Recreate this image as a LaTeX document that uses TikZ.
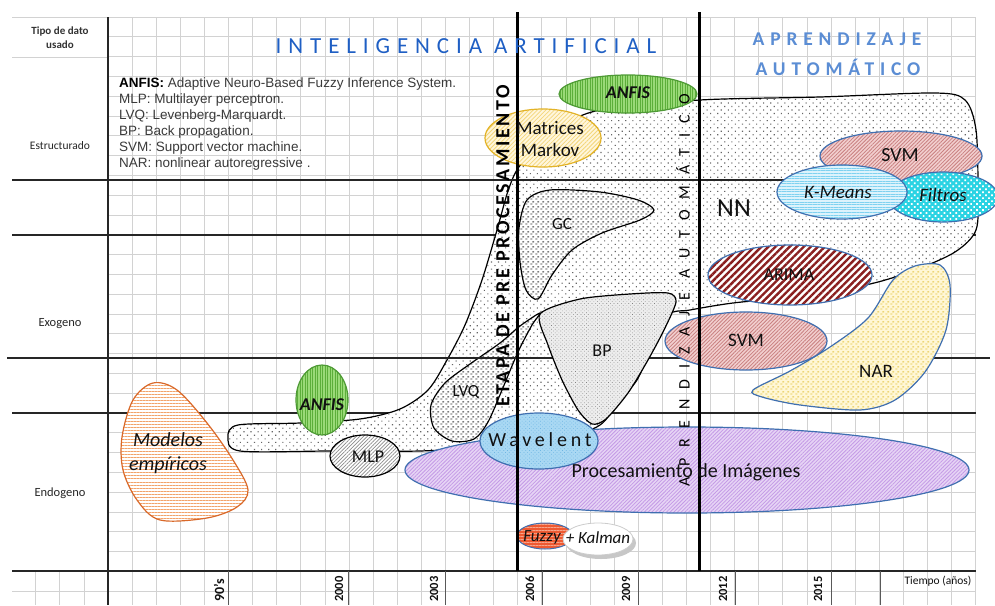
\documentclass[tikz,border=0pt]{standalone}
\usepackage{fontspec}
\setmainfont{Carlito}
\newfontfamily\legfont{Liberation Sans}
\newfontfamily\titlefont[LetterSpace=30]{Carlito}
\newfontfamily\etapafont[LetterSpace=13]{Carlito}
\newfontfamily\aprfont[LetterSpace=66]{Carlito}
\newfontfamily\wavfont[LetterSpace=19]{Carlito}
\usetikzlibrary{patterns,patterns.meta}
\newcommand\fsz[1]{\fontsize{#1}{#1}\selectfont}
\definecolor{gridc}{HTML}{D2D2D2}
\definecolor{titleblue}{HTML}{1F5FC4}
\definecolor{aprblue}{HTML}{5B8DD4}
\definecolor{outblue}{HTML}{3F6FB0}
\definecolor{anfisg}{HTML}{9ADA78}
\definecolor{anfisgl}{HTML}{5CAE3A}
\definecolor{anfisline}{HTML}{4E9A35}
\definecolor{orangeline}{HTML}{D9692A}
\definecolor{orangestripe}{HTML}{F2A36A}
\definecolor{matyel}{HTML}{E3B327}
\definecolor{matfill}{HTML}{FFF6DC}
\definecolor{matstripe}{HTML}{F3D67A}
\definecolor{svmfill}{HTML}{F2CFCF}
\definecolor{svmstripe}{HTML}{C98080}
\definecolor{arimared}{HTML}{8A1F1F}
\definecolor{kmfill}{HTML}{DDF3FC}
\definecolor{kmstripe}{HTML}{7FD2F0}
\definecolor{filtc}{HTML}{2BD3E3}
\definecolor{narfill}{HTML}{FFF7D6}
\definecolor{narstripe}{HTML}{E3C445}
\definecolor{procfill}{HTML}{E6D4F5}
\definecolor{procstripe}{HTML}{C49AE6}
\definecolor{wavfill}{HTML}{A9D8F3}
\definecolor{wavdot}{HTML}{6FB6E3}
\definecolor{fuzzyfill}{HTML}{EE5A32}
\definecolor{fuzzystripe}{HTML}{F7A58C}
\definecolor{textc}{HTML}{111111}
\definecolor{legc}{HTML}{3A3A3A}
\pgfdeclarepattern{name=hdash,
  bottom left={\pgfpoint{0pt}{0pt}}, top right={\pgfpoint{5pt}{5pt}},
  tile size={\pgfpoint{5pt}{5pt}},
  code={\pgfsetlinewidth{1pt}
    \pgfpathmoveto{\pgfpoint{0.3pt}{1.25pt}}\pgfpathlineto{\pgfpoint{2.8pt}{1.25pt}}
    \pgfpathmoveto{\pgfpoint{2.8pt}{3.75pt}}\pgfpathlineto{\pgfpoint{5pt}{3.75pt}}
    \pgfusepath{stroke}}}
\tikzset{
  gridline/.style={gridc, line width=0.8pt},
  hline/.style={black!85, line width=1.6pt},
  vline/.style={black, line width=3pt},
  tickline/.style={black!65, line width=1pt},
  lbl/.style={inner sep=0pt, text=textc},
  nnfill/.style={preaction={fill=white}, pattern={Dots[radius=0.8pt, distance=5pt, angle=45]}, pattern color=black!60, draw=black, line width=1.2pt},
  dashfill/.style={preaction={fill=white}, pattern=hdash, pattern color=black!80, draw=black, line width=1.2pt},
  bpfill/.style={preaction={fill=black!7}, pattern={Dots[radius=0.45pt, distance=2.6pt, angle=45]}, pattern color=black!50, draw=black, line width=1.2pt},
  matfillst/.style={preaction={fill=matfill}, pattern={Lines[angle=45, distance=3pt, line width=0.8pt]}, pattern color=matstripe, draw=matyel, line width=1.2pt},
  anfisfill/.style={preaction={fill=anfisg}, pattern={Lines[angle=90, distance=2.5pt, line width=0.8pt]}, pattern color=anfisgl, draw=anfisline, line width=1.2pt},
  mlpfill/.style={preaction={fill=white}, pattern={Lines[angle=45, distance=2.6pt, line width=0.7pt]}, pattern color=black!45, draw=black, line width=1.2pt},
  modfill/.style={preaction={fill=white}, pattern={Lines[angle=0, distance=3pt, line width=1pt]}, pattern color=orangestripe, draw=orangeline, line width=1.2pt},
  wavfillst/.style={preaction={fill=wavfill}, pattern={Dots[radius=0.5pt, distance=2.6pt, angle=45]}, pattern color=wavdot, draw=outblue, line width=1.2pt},
  procfillst/.style={preaction={fill=procfill}, pattern={Lines[angle=45, distance=2.6pt, line width=0.8pt]}, pattern color=procstripe, draw=outblue, line width=1.2pt},
  fuzzyfillst/.style={preaction={fill=fuzzyfill}, pattern={Lines[angle=0, distance=3pt, line width=0.9pt]}, pattern color=fuzzystripe, draw=outblue, line width=1pt},
  svmfillst/.style={preaction={fill=svmfill}, pattern={Lines[angle=45, distance=2.6pt, line width=0.8pt]}, pattern color=svmstripe, draw=outblue, line width=1.2pt},
  kmfillst/.style={preaction={fill=kmfill}, pattern={Lines[angle=0, distance=2.6pt, line width=0.8pt]}, pattern color=kmstripe, draw=outblue, line width=1.2pt},
  filtfillst/.style={preaction={fill=filtc}, pattern={Dots[radius=1.2pt, distance=4.2pt, angle=45]}, pattern color=white, draw=outblue, line width=1.2pt},
  arimafillst/.style={preaction={fill=white}, pattern={Lines[angle=45, distance=5pt, line width=2.4pt]}, pattern color=arimared, draw=outblue, line width=1.2pt},
  narfillst/.style={preaction={fill=narfill}, pattern=hdash, pattern color=narstripe, draw=outblue, line width=1.2pt},
}
\begin{document}
\begin{tikzpicture}[x=1pt, y=-1pt]
\useasboundingbox (0,0) rectangle (995,605);
\fill[white] (0,0) rectangle (995,605);

% ---------- grid ----------
\foreach \k in {0,...,29} \draw[gridline] (108,{17+19.8*\k}) -- (976,{17+19.8*\k});
\foreach \k in {1,...,36} \draw[gridline] ({108+24.1*\k},17) -- ({108+24.1*\k},605);
\foreach \k in {1,2,3} \draw[gridline] ({108-24.1*\k},571) -- ({108-24.1*\k},605);
\draw[gridline] (12,17) -- (108,17);
\draw[gridline] (12,57) -- (108,57);
\draw[gridline] (12,591) -- (108,591);

% ---------- heavy lines (under the regions) ----------
\draw[hline] (12,235) -- (976,235);
\draw[hline] (12,413) -- (976,413);
\draw[hline] (12,571) -- (976,571);
\draw[black!85, line width=1.4pt] (108,17) -- (108,605);
\foreach \x in {228,348,445,542,638,735,831,880} \draw[tickline] (\x,571) -- (\x,605);

% ---------- NN region ----------
\path[nnfill] plot[smooth cycle, tension=0.5] coordinates {
 (228,437) (238,425) (300,423) (360,419) (400,409) (428,390) (447,360) (465,325)
 (482,280) (497,230) (509,188) (522,163) (560,128) (600,110) (700,100) (820,97)
 (935,93) (965,100) (976,130) (978,190) (976,230) (955,252) (915,270) (870,284)
 (800,296) (733,303) (690,310) (668,315) (650,350) (637,380) (617,403) (600,425)
 (560,440) (480,447) (420,451) (330,451) (240,451)};

% LVQ and GC
\path[dashfill] plot[smooth cycle, tension=0.5] coordinates {
 (540,313) (520,326) (500,343) (470,364) (445,383) (431,405) (434,428) (452,441)
 (474,439) (488,422) (502,390) (518,352) (532,325)};
\path[dashfill] plot[smooth cycle, tension=0.5] coordinates {
 (527,200) (550,190) (600,192) (638,200) (654,210) (640,220) (602,233) (572,250)
 (552,275) (538,299) (526,290) (520,262) (519,228)};

% heavy lines over the NN region
\draw[hline] (12,180) -- (976,180);
\draw[hline] (7,358) -- (990,358);

% BP
\path[bpfill] plot[smooth cycle, tension=0.45] coordinates {
 (540,314) (580,299) (630,294) (668,293) (676,302) (664,330) (648,360) (628,393)
 (606,419) (592,424) (578,410) (562,380) (548,345)};

% ---------- other shapes ----------
\path[matfillst] (543,138) ellipse [x radius=58, y radius=29];
\path[anfisfill] (628,94) ellipse [x radius=69, y radius=19];
\path[modfill] plot[smooth cycle, tension=0.55] coordinates {
 (153,383) (133,400) (122,437) (123,470) (137,500) (160,520) (207,518) (237,507)
 (248,490) (233,460) (207,423) (177,390)};
\path[anfisfill] (322,400) ellipse [x radius=26, y radius=35];
\path[mlpfill] (365,456) ellipse [x radius=35, y radius=21];
\path[procfillst] (687,470) ellipse [x radius=282, y radius=43];
\path[wavfillst] (539,441) ellipse [x radius=59, y radius=28];
\path[fuzzyfillst] (545,536) ellipse [x radius=28, y radius=13];
\fill[black!22] (601,543) ellipse [x radius=35, y radius=16];
\path[fill=white, draw=black!20, line width=0.8pt] (598,539) ellipse [x radius=35, y radius=16];
\path[svmfillst] (901,156) ellipse [x radius=81, y radius=25];
\path[filtfillst] (943,197) ellipse [x radius=55, y radius=25];
\path[kmfillst] (842,192) ellipse [x radius=65, y radius=27];
\path[arimafillst] (790,275) ellipse [x radius=82, y radius=30];
\path[narfillst] plot[smooth cycle, tension=0.5] coordinates {
 (753,390) (790,371) (830,347) (868,318) (893,280) (915,266) (940,265) (950,285)
 (946,330) (925,372) (895,400) (860,410) (800,405) (762,397)};
\path[svmfillst] (746,341) ellipse [x radius=81, y radius=29];

% ---------- heavy vertical stage lines ----------
\draw[vline] (517,12) -- (517,571);
\draw[vline] (699,12) -- (699,571);

% ---------- texts ----------
\node[lbl, align=center, font=\fontsize{11}{14}\selectfont\bfseries, text=black!80] (tipo) at (60,38) {Tipo de dato\\usado};
\node[lbl, font=\fsz{11.5}, text=black!85] (estr) at (60,146) {Estructurado};
\node[lbl, font=\fsz{12.5}, text=black!85] (exo) at (60,324) {Exogeno};
\node[lbl, font=\fsz{12.5}, text=black!85] (endo) at (60,493) {Endogeno};

\node[lbl, font=\titlefont\fsz{23}, text=titleblue] (ia) at (466,46) {INTELIGENCIA ARTIFICIAL};
\node[lbl, font=\titlefont\fsz{19.5}\bfseries, text=aprblue] (apr1) at (837,39) {APRENDIZAJE};
\node[lbl, font=\titlefont\fsz{19.5}\bfseries, text=aprblue] (apr2) at (838,67) {AUTOMÁTICO};

\node[lbl, anchor=north west, align=left, font=\legfont\fontsize{13.5}{16}\selectfont, text=legc] (legend) at (119,78)
 {\textcolor{black}{\textbf{ANFIS:}} Adaptive Neuro-Based Fuzzy Inference System.\\
  MLP: Multilayer perceptron.\\
  LVQ: Levenberg-Marquardt.\\
  BP: Back propagation.\\
  SVM: Support vector machine.\\
  NAR: nonlinear autoregressive .};

\node[lbl, rotate=90, font=\etapafont\fsz{20}\bfseries, text=black] (etapa) at (503,246) {ETAPA DE PRE PROCESAMIENTO};
\node[lbl, rotate=90, font=\aprfont\fsz{16}, text=black] (aprv) at (683,290) {APRENDIZAJE AUTOMÁTICO};

\node[lbl, align=center, font=\fontsize{19}{22}\selectfont] (markov) at (550,139) {Matrices\\Markov};
\node[lbl, font=\fsz{18}\bfseries\itshape] (anfis1) at (628,93) {ANFIS};
\node[lbl, font=\fsz{18}\bfseries\itshape] (anfis2) at (322,405) {ANFIS};
\node[lbl, font=\fsz{18}] (mlp) at (368,457) {MLP};
\node[lbl, font=\fsz{17}] (lvq) at (466,392) {LVQ};
\node[lbl, font=\fsz{17}] (gc) at (562,224) {GC};
\node[lbl, font=\fsz{18}] (bp) at (602,351) {BP};
\node[lbl, font=\fsz{26}] (nn) at (734,208) {NN};
\node[lbl, font=\fsz{20}] (svm1) at (900,155) {SVM};
\node[lbl, font=\fsz{19}\itshape] (kmeans) at (838,192) {K-Means};
\node[lbl, font=\fsz{19}\itshape] (filtros) at (943,195) {Filtros};
\node[lbl, font=\fsz{18}] (arima) at (789,275) {ARIMA};
\node[lbl, font=\fsz{19}] (svm2) at (746,340) {SVM};
\node[lbl, font=\fsz{19}] (nar) at (876,371) {NAR};
\node[lbl, font=\wavfont\fsz{20}] (wav) at (540,440) {Wavelent};
\node[lbl, font=\fsz{20}] (proc) at (686,472) {Procesamiento de Imágenes};
\node[lbl, align=center, font=\fontsize{20}{24}\selectfont\itshape] (modelos) at (168,453) {Modelos\\empíricos};
\node[lbl, font=\fsz{17}\itshape] (fuzzy) at (542,537) {Fuzzy};
\node[lbl, font=\fsz{17}\itshape] (kalman) at (598,538) {+ Kalman};

\node[lbl, rotate=90, font=\fsz{14}\bfseries] (y90) at (219,590) {90's};
\node[lbl, rotate=90, font=\fsz{12.5}\bfseries] (y2000) at (339,589) {2000};
\node[lbl, rotate=90, font=\fsz{12.5}\bfseries] (y2003) at (434,589) {2003};
\node[lbl, rotate=90, font=\fsz{12.5}\bfseries] (y2006) at (530,589) {2006};
\node[lbl, rotate=90, font=\fsz{12.5}\bfseries] (y2009) at (626,589) {2009};
\node[lbl, rotate=90, font=\fsz{12.5}\bfseries] (y2012) at (723,589) {2012};
\node[lbl, rotate=90, font=\fsz{12.5}\bfseries] (y2015) at (818,589) {2015};
\node[lbl, font=\fsz{11.5}] (tiempo) at (938,581) {Tiempo (años)};
\end{tikzpicture}
\end{document}
